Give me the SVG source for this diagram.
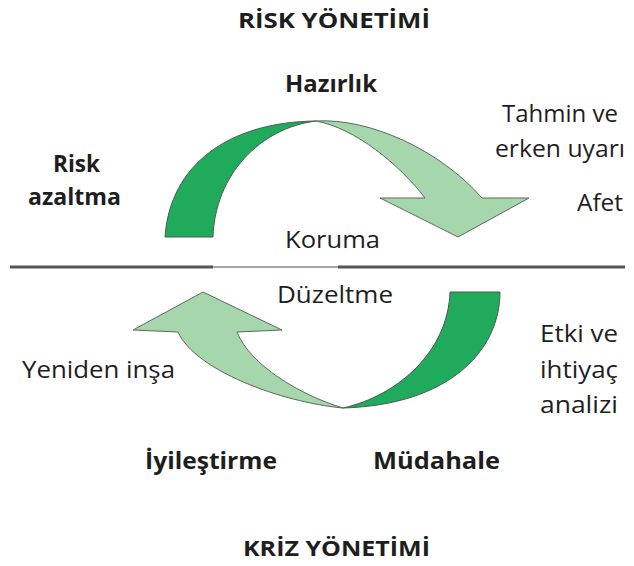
<svg xmlns="http://www.w3.org/2000/svg" width="634" height="566" viewBox="0 0 634 566">
<style>
text{font-family:"Open Sans","Liberation Sans",sans-serif;fill:#1e1e1e}
.b{font-weight:bold}
.t{font-size:21px}
.l{font-size:24px}
.r{font-size:23px}
.dk{fill:#1fab5b;stroke:#4a5a4f;stroke-width:1}
.lt{fill:#a6d6ac;stroke:#5a6a5e;stroke-width:1}
</style>
<rect width="634" height="566" fill="#ffffff"/>
<g id="title-risk"><text class="b t" x="238" y="28" textLength="192" lengthAdjust="spacingAndGlyphs">RİSK YÖNETİMİ</text></g>
<g id="title-kriz"><text class="b t" x="243" y="556" textLength="187" lengthAdjust="spacingAndGlyphs">KRİZ YÖNETİMİ</text></g>
<g id="connectors">
<line x1="10" y1="267" x2="213" y2="267" stroke="#555" stroke-width="3"/>
<line x1="213" y1="267" x2="338" y2="267" stroke="#888" stroke-width="1.5"/>
<line x1="338" y1="267" x2="625" y2="267" stroke="#555" stroke-width="3"/>
<path id="top-dark" class="dk" d="M165,237 C170,165 228,122 316,121 C260,128 215,175 213,237 Z"/>
<path id="top-light" class="lt" d="M316,121 C370,118 440,150 482,198 L529,198 L458,237 L380,198 L425,198 C400,165 355,128 316,121 Z"/>
<path id="bottom-dark" class="dk" d="M450,292 L500,292 C500,350 450,405 343,408 C400,395 448,350 450,292 Z"/>
<path id="bottom-light" class="lt" d="M343,408 C280,402 195,370 178,332 L133,330 L203,292 L282,330 L237,332 C250,365 300,395 343,408 Z"/>
</g>
<g id="hazirlik"><text class="b l" x="285" y="92" textLength="92" lengthAdjust="spacingAndGlyphs">Hazırlık</text></g>
<g id="risk-azaltma"><text class="b l" x="53" y="172" textLength="47" lengthAdjust="spacingAndGlyphs">Risk</text><text class="b l" x="28" y="205" textLength="93" lengthAdjust="spacingAndGlyphs">azaltma</text></g>
<g id="tahmin"><text class="r" x="502" y="122" textLength="116" lengthAdjust="spacingAndGlyphs">Tahmin ve</text><text class="r" x="495" y="157" textLength="130" lengthAdjust="spacingAndGlyphs">erken uyarı</text></g>
<g id="afet"><text class="r" x="577" y="211" textLength="46" lengthAdjust="spacingAndGlyphs">Afet</text></g>
<g id="koruma"><text class="r" x="285" y="248" textLength="95" lengthAdjust="spacingAndGlyphs">Koruma</text></g>
<g id="duzeltme"><text class="r" x="277" y="303" textLength="116" lengthAdjust="spacingAndGlyphs">Düzeltme</text></g>
<g id="etki"><text class="r" x="540" y="342" textLength="78" lengthAdjust="spacingAndGlyphs">Etki ve</text><text class="r" x="540" y="378" textLength="78" lengthAdjust="spacingAndGlyphs">ihtiyaç</text><text class="r" x="540" y="413" textLength="78" lengthAdjust="spacingAndGlyphs">analizi</text></g>
<g id="yeniden"><text class="r" x="22" y="378" textLength="153" lengthAdjust="spacingAndGlyphs">Yeniden inşa</text></g>
<g id="iyilestirme"><text class="b l" x="145" y="469" textLength="132" lengthAdjust="spacingAndGlyphs">İyileştirme</text></g>
<g id="mudahale"><text class="b l" x="373" y="469" textLength="127" lengthAdjust="spacingAndGlyphs">Müdahale</text></g>
</svg>
